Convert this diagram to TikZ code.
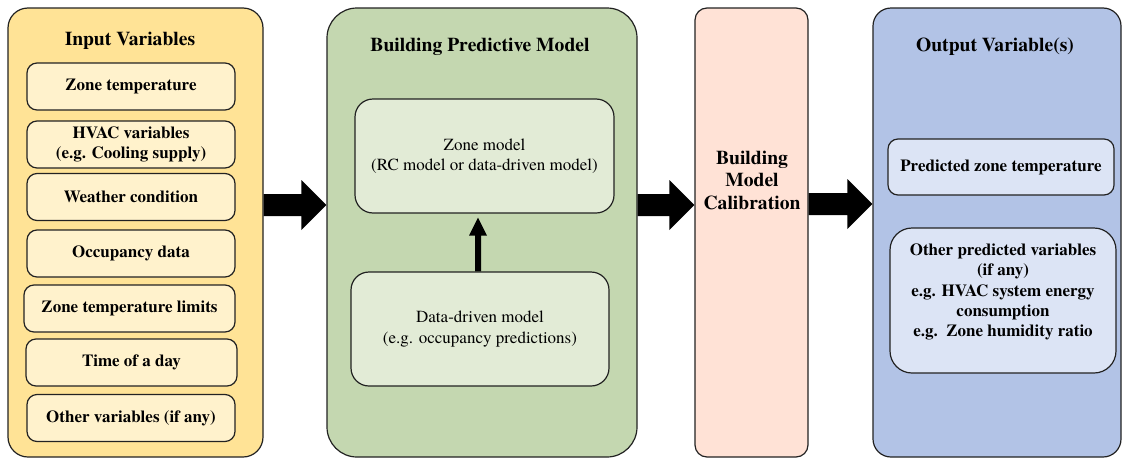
\documentclass[tikz,border=0pt]{standalone}
\usepackage{fontspec}
\setmainfont{texgyretermes}[Extension=.otf, UprightFont=*-regular, BoldFont=*-bold,
  ItalicFont=*-italic, BoldItalicFont=*-bolditalic]
\usetikzlibrary{calc}

\definecolor{linec}{RGB}{34,34,34}
\definecolor{youter}{RGB}{255,227,150}
\definecolor{yinner}{RGB}{255,242,204}
\definecolor{gouter}{RGB}{196,215,176}
\definecolor{ginner}{RGB}{226,235,214}
\definecolor{calib}{RGB}{255,226,214}
\definecolor{bouter}{RGB}{178,195,230}
\definecolor{binner}{RGB}{220,228,245}

\newcommand\itemfont{\fontsize{17}{20.3}\selectfont\bfseries}
\newcommand\plainfont{\fontsize{17}{20.5}\selectfont}
\newcommand\titlefont{\fontsize{19.6}{22.5}\selectfont\bfseries}

% thick block arrow from the east side of #1 to the west side of #2, on the line y=#3
\newcommand\blockarrow[3]{%
  \coordinate (ba-s) at (#1.east |- 0,#3);
  \coordinate (ba-t) at (#2.west |- 0,#3);
  \fill[black] ($(ba-s)+(0,-11)$) -- ($(ba-t)+(-25,-11)$) -- ($(ba-t)+(-25,-25)$)
    -- (ba-t) -- ($(ba-t)+(-25,25)$) -- ($(ba-t)+(-25,11)$) -- ($(ba-s)+(0,11)$) -- cycle;}

\begin{document}
\begin{tikzpicture}[x=1pt,y=-1pt,
  box/.style={draw=linec, line width=1.2pt, rectangle, inner sep=0pt, align=center},
  panel/.style={box, minimum height=449pt},
  item/.style={box, fill=yinner, rounded corners=10pt, font=\itemfont,
    minimum width=208pt, minimum height=47pt},
  title/.style={font=\titlefont, inner sep=0pt, align=center}]
\useasboundingbox (0,0) rectangle (1124,458);

% ---- panels
\node[panel, fill=youter, rounded corners=20pt, minimum width=255pt] (inp) at (135.5,232.5) {};
\node[panel, fill=gouter, rounded corners=30pt, minimum width=310pt] (bpm) at (482,232.5) {};
\node[panel, fill=calib, rounded corners=12pt, minimum width=113pt,
  font=\titlefont] (cal) at (751.5,232.5) {};
\node[panel, fill=bouter, rounded corners=18pt, minimum width=248pt] (outp) at (997,232.5) {};

% ---- input variables
\node[title] (inp-t) at (130,41) {Input Variables};
\node[item] (i1) at (131,86.5) {Zone temperature};
\node[item] (i2) at (131,144.5) {HVAC variables\\(e.g. Cooling supply)};
\node[item] (i3) at (131,197) {Weather condition};
\node[item] (i4) at (131,253.5) {Occupancy data};
\node[item, minimum width=211pt] (i5) at (129.5,308.5) {Zone temperature limits};
\node[item, minimum width=211pt] (i6) at (131.5,362.5) {Time of a day};
\node[item] (i7) at (131,418) {Other variables (if any)};

% ---- building predictive model
\node[title] (bpm-t) at (480,47) {Building Predictive Model};
\node[box, fill=ginner, rounded corners=18pt, minimum width=259pt, minimum height=114pt,
  font=\plainfont] (zone) at (484.5,156) {Zone model\\(RC model or data-driven model)};
\node[box, fill=ginner, rounded corners=18pt, minimum width=258pt, minimum height=114pt,
  font=\plainfont] (dd) at (480,329) {Data-driven model\\(e.g. occupancy predictions)};

% arrow from the data-driven model up to the zone model
\coordinate (sa-s) at (dd.north -| 478,0);
\coordinate (sa-t) at ($(zone.south -| 478,0)+(0,4)$);
\fill[black] ($(sa-s)+(-3,0)$) -- ($(sa-t)+(-3,18)$) -- ($(sa-t)+(-9,18)$) -- (sa-t)
  -- ($(sa-t)+(9,18)$) -- ($(sa-t)+(3,18)$) -- ($(sa-s)+(3,0)$) -- cycle;

% ---- calibration
\node[title] (cal-t) at (752,180) {Building\\Model\\Calibration};

% ---- output variables
\node[title] (outp-t) at (995,47) {Output Variable(s)};
\node[box, fill=binner, rounded corners=10pt, minimum width=226pt, minimum height=56pt,
  font=\itemfont] (o1) at (1001,167) {Predicted zone temperature};
\node[box, fill=binner, rounded corners=22pt, minimum width=226pt, minimum height=145pt] (o2) at (1003,300.5) {};
\node[font=\itemfont, align=center, inner sep=0pt] (o2-t) at (1003,292)
  {Other predicted variables\\(if any)\\e.g. HVAC system energy\\consumption\\e.g.\ \ Zone humidity ratio};

% ---- block arrows between the panels
\blockarrow{inp}{bpm}{205}
\blockarrow{bpm}{cal}{205}
\blockarrow{cal}{outp}{204}
\end{tikzpicture}
\end{document}
